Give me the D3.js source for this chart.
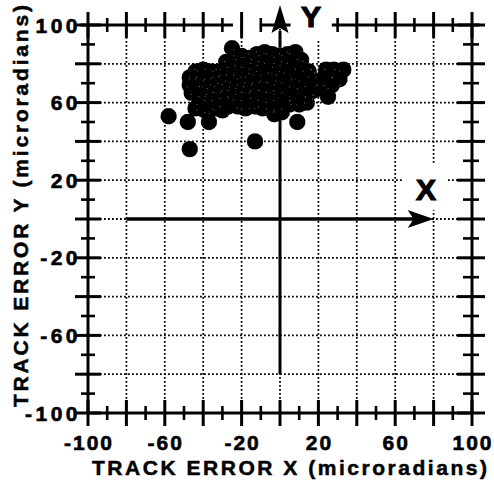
<!DOCTYPE html>
<html><head><meta charset="utf-8">
<script src="https://cdn.jsdelivr.net/npm/d3@7"></script>
<style>body{margin:0;background:#fff}svg{display:block}</style>
</head><body>
<svg id="c" width="494" height="482"></svg>
<script>
// Track error samples (microradians)
const errX = [-25,-24,-28,-44,-40,-36,-32,-29,-47,-47,-46,-42,-44,-39,-34,-30,-22,-18,-13,-9,-3,1,5,10,14,17,
  -20,-16,-12,-8,-4,0,4,8,11,15,18,21,24,28,33,31,27,25,23,
  -58,-48,-37,-47,-13,9,
  -43,-39,-35,-31,-27,-23,-19,-15,-11,-7,-3,1,5,9,12,
  -44,-40,-36,-32,-28,-24,-20,-16,-12,-8,-4,0,4,8,12,15,
  -42,-38,-34,-30,-26,-22,-18,-14,-10,-6,-2,2,6,10,13,
  -39,-35,-31,-27,-23,-19,-15,-11,-7,-3,1,5,9,
  -27,-20,-16,-11,-7,-3,1];
const errY = [88,83,81,76,77,76,76,77,73,69,65,61,57,56,57,56,58,57,58,57,54,55,59,59,60,66,
  84,83,85,86,85,84,85,86,82,76,71,67,77,77,77,72,69,63,73,
  53,50,50,36,40,50,
  72,73,72,73,74,78,79,78,80,81,79,80,81,78,77,
  68,67,68,69,70,71,74,73,75,76,74,75,76,73,72,69,
  64,63,64,65,66,68,69,70,70,71,70,71,68,67,64,
  59,61,61,62,63,64,65,66,66,65,66,64,63,
  58,61,61,62,61,60,61];

const axisTicks = [-100,-90,-80,-70,-60,-50,-40,-30,-20,-10,0,10,20,30,40,50,60,70,80,90,100];
const gridValues = [-80,-60,-40,-20,0,20,40,60,80];
const tickLabels = [-100,-60,-20,20,60,100];
const xTitle = "TRACK ERROR X (microradians)";
const yTitle = "TRACK ERROR Y (microradians)";

const svg = d3.select("#c");
const x = d3.scaleLinear([-100,100],[88,472]);
const y = d3.scaleLinear([-100,100],[413,25]);
const ink = "#000";
const font = "'Liberation Sans', Arial, Helvetica, sans-serif";
const isMajor = v => v % 20 === 0;

// dotted grid
const grid = svg.append("g").attr("stroke", ink).attr("stroke-width", 1.8)
  .attr("stroke-dasharray", "1.8,2.2");
grid.selectAll("line.v").data(gridValues).join("line")
  .attr("x1", d => x(d)).attr("x2", d => x(d)).attr("y1", y(100)).attr("y2", y(-100));
grid.selectAll("line.h").data(gridValues).join("line")
  .attr("y1", d => y(d)).attr("y2", d => y(d)).attr("x1", x(-100)).attr("x2", x(100));

// gaps in the grid behind the axis letters
svg.append("rect").attr("x", 404).attr("y", 163).attr("width", 43).attr("height", 47).attr("fill", "#fff");
svg.append("rect").attr("x", 292).attr("y", 0).attr("width", 38).attr("height", 40).attr("fill", "#fff");

// axis frame
const frame = svg.append("g").attr("stroke", ink).attr("stroke-width", 3).attr("stroke-linecap", "butt");
frame.append("line").attr("x1", x(-100)).attr("x2", x(100)).attr("y1", y(-100)).attr("y2", y(-100));
frame.append("line").attr("x1", x(-100)).attr("x2", x(-100)).attr("y1", y(-100)).attr("y2", y(100));
frame.append("line").attr("x1", x(100)).attr("x2", x(100)).attr("y1", y(-100)).attr("y2", y(100));
[[-104,-24.5],[-10.5,5.5],[27,104]].forEach(s =>
  frame.append("line").attr("x1", x(s[0])).attr("x2", x(s[1])).attr("y1", y(100)).attr("y2", y(100)));

const tl = v => isMajor(v) ? 13 : 7;
const tw = v => isMajor(v) ? 3 : 2.6;
// bottom & top ticks
frame.selectAll("line.tb").data(axisTicks).join("line")
  .attr("x1", d => x(d)).attr("x2", d => x(d))
  .attr("y1", d => y(-100) - tl(d)).attr("y2", d => y(-100) + tl(d)).attr("stroke-width", tw);
frame.selectAll("line.tt").data(axisTicks.filter(v => v !== 10 && v !== 20 && v !== 0)).join("line")
  .attr("x1", d => x(d)).attr("x2", d => x(d))
  .attr("y1", d => y(100) - tl(d)).attr("y2", d => y(100) + tl(d)).attr("stroke-width", tw);
// left & right ticks
frame.selectAll("line.tl").data(axisTicks).join("line")
  .attr("y1", d => y(d)).attr("y2", d => y(d))
  .attr("x1", d => x(-100) - tl(d)).attr("x2", d => x(-100) + tl(d)).attr("stroke-width", tw);
frame.selectAll("line.tr").data(axisTicks).join("line")
  .attr("y1", d => y(d)).attr("y2", d => y(d))
  .attr("x1", d => x(100) - tl(d) - 2).attr("x2", d => x(100) + tl(d)).attr("stroke-width", tw);

// X and Y reference arrows
svg.append("line").attr("x1", x(-80)).attr("x2", x(80) - 20).attr("y1", y(0)).attr("y2", y(0))
  .attr("stroke", ink).attr("stroke-width", 3.5);
svg.append("path").attr("fill", ink)
  .attr("d", `M${x(80)},${y(0)} L${x(80)-26},${y(0)-9} L${x(80)-20},${y(0)} L${x(80)-26},${y(0)+9} Z`);
svg.append("line").attr("x1", x(0)).attr("x2", x(0)).attr("y1", y(-80)).attr("y2", y(100) + 6)
  .attr("stroke", ink).attr("stroke-width", 3);
svg.append("path").attr("fill", ink)
  .attr("d", `M${x(0)},${y(100)-20} L${x(0)-8.5},${y(100)+8} L${x(0)},${y(100)+3} L${x(0)+8.5},${y(100)+8} Z`);

// scatter of track errors
svg.append("g").selectAll("circle").data(errX.map((v, i) => [v, errY[i]])).join("circle")
  .attr("cx", d => x(d[0])).attr("cy", d => y(d[1])).attr("r", 8.2)
  .attr("fill", ink).attr("stroke", "#fff").attr("stroke-width", 0.7)
  .attr("stroke-dasharray", "0.7,12");

// tick labels
const lab = svg.append("g").attr("font-family", font).attr("font-weight", "bold")
  .attr("font-size", 21).attr("fill", ink).attr("stroke", ink).attr("stroke-width", 0.6);
lab.selectAll("text.y").data(tickLabels).join("text")
  .attr("x", 81).attr("y", d => y(d)).attr("dy", "0.36em").attr("text-anchor", "end")
  .attr("letter-spacing", 3.5).text(d => d);
lab.selectAll("text.x").data(tickLabels).join("text")
  .attr("x", d => x(d) + 1).attr("y", 450).attr("text-anchor", "middle")
  .attr("letter-spacing", 2).text(d => d);

// axis titles
const tt = svg.append("g").attr("font-family", font).attr("font-weight", "bold")
  .attr("font-size", 21).attr("fill", ink).attr("stroke", ink).attr("stroke-width", 0.5);
tt.append("text").attr("x", 92).attr("y", 475).attr("textLength", 395)
  .attr("lengthAdjust", "spacing").text(xTitle);
tt.append("text").attr("transform", "translate(28,407) rotate(-90)").attr("textLength", 402)
  .attr("lengthAdjust", "spacing").text(yTitle);
tt.append("text").attr("x", 311).attr("y", 27).attr("text-anchor", "middle").attr("font-size", 30)
  .attr("stroke-width", 1.2).text("Y");
tt.append("text").attr("x", 426).attr("y", 200).attr("text-anchor", "middle").attr("font-size", 30)
  .attr("stroke-width", 1.2).text("X");
</script>
</body></html>
